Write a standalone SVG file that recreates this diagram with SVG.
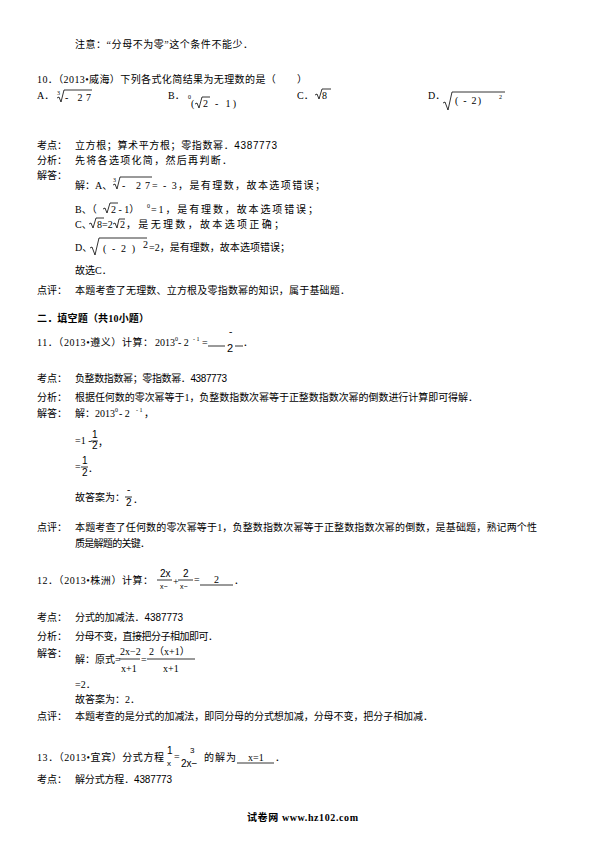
<svg xmlns="http://www.w3.org/2000/svg" width="595" height="842" viewBox="0 0 595 842">
<style>
text{font-family:"Liberation Serif","Noto Sans CJK SC",serif;font-size:10px;fill:#000}
.s{font-family:"Liberation Sans","Noto Sans CJK SC",sans-serif}
.b{font-weight:bold}
.sm{font-size:6px}
.rad{fill:none;stroke:#000;stroke-width:0.8}
.ln{stroke:#000;stroke-width:0.8}
</style>
<rect width="595" height="842" fill="#fff"/>
<g id="q9-note">
<text x="75" y="48" textLength="178" lengthAdjust="spacing">注意：“分母不为零”这个条件不能少．</text>
</g>
<g id="q10">
<text x="37" y="83" textLength="270" lengthAdjust="spacing">10．（2013•威海）下列各式化简结果为无理数的是（　　）</text>
<text x="37" y="99">A．</text>
<text class="sm" x="57" y="95">3</text>
<path class="rad" d="M57,98 L59,97 L61,102 L64,90 L92,90"/>
<text x="65" y="101" textLength="26" lengthAdjust="spacing">- 27</text>
<text x="168" y="99">B．</text>
<text class="sm" x="188" y="99">0</text>
<text x="191" y="107">(</text>
<path class="rad" d="M195,104 L197,103 L199,108 L202,97 L210,97"/>
<text x="203" y="107" textLength="33" lengthAdjust="spacing">2 - 1)</text>
<text x="297" y="99">C．</text>
<path class="rad" d="M315,95 L317,94 L319,99 L322,89 L331,89"/>
<text x="322" y="99">8</text>
<text x="428" y="99">D．</text>
<path class="rad" d="M443,103 L445,102 L448,110 L452,92 L505,92"/>
<text x="455" y="104" textLength="26" lengthAdjust="spacing">( - 2)</text>
<text class="sm" x="499" y="99">2</text>
</g>
<g id="q10-answer">
<text x="37" y="149">考点：</text>
<text x="75" y="149" textLength="202" lengthAdjust="spacing">立方根；算术平方根；零指数幂．<tspan class="s">4387773</tspan></text>
<text x="37" y="164">分析：</text>
<text x="75" y="164" textLength="157" lengthAdjust="spacing">先将各选项化简，然后再判断．</text>
<text x="37" y="179">解答：</text>
<text x="75" y="189">解：A、</text>
<text class="sm" x="113" y="182">3</text>
<path class="rad" d="M113,185 L115,184 L117,189 L120,177 L152,177"/>
<text x="122" y="189" textLength="28" lengthAdjust="spacing">- 27</text>
<text x="152" y="189" textLength="173" lengthAdjust="spacing">= - 3，是有理数，故本选项错误；</text>
<text x="75" y="213">B、（</text>
<path class="rad" d="M103,209 L105,208 L107,213 L110,203 L118,203"/>
<text x="111" y="213">2 - 1）</text>
<text class="sm" x="147" y="208">0</text>
<text x="151" y="213" textLength="167" lengthAdjust="spacing">=1，是有理数，故本选项错误；</text>
<text x="75" y="228">C、</text>
<path class="rad" d="M89,224 L91,223 L93,228 L96,218 L104,218"/>
<text x="97" y="228">8=2</text>
<path class="rad" d="M113,224 L115,223 L117,228 L119,219 L125,219"/>
<text x="120" y="228">2</text>
<text x="126" y="228" textLength="158" lengthAdjust="spacing">，是无理数，故本选项正确；</text>
<text x="75" y="251">D、</text>
<path class="rad" d="M90,248 L92,247 L95,255 L99,238 L147,238"/>
<text x="103" y="252" textLength="32" lengthAdjust="spacing">(  - 2 )</text>
<text x="143" y="248">2</text>
<text x="149" y="251" textLength="141" lengthAdjust="spacing">=2，是有理数，故本选项错误；</text>
<text x="75" y="274">故选C．</text>
<text x="37" y="294">点评：</text>
<text x="75" y="294" textLength="275" lengthAdjust="spacing">本题考查了无理数、立方根及零指数幂的知识，属于基础题．</text>
</g>
<g id="section2">
<text class="b" x="37" y="322" textLength="112" lengthAdjust="spacing">二．填空题（共10小题）</text>
</g>
<g id="q11">
<text x="37" y="346" textLength="116" lengthAdjust="spacing">11．（2013•遵义）计算：</text>
<text x="155" y="346">2013</text>
<text class="sm" x="175" y="341">0</text>
<text x="178" y="346"> - 2</text>
<text class="sm" x="193" y="341">- 1</text>
<text x="202" y="346">=</text>
<path class="ln" d="M208,346 L225,346 M235,346 L243,346"/>
<text x="229" y="335">-</text>
<text class="s" x="227" y="352" style="font-size:11px">2</text>
<text x="243" y="346">．</text>
</g>
<g id="q11-answer">
<text x="37" y="382">考点：</text>
<text x="75" y="382" textLength="152" lengthAdjust="spacing">负整数指数幂；零指数幂．<tspan class="s">4387773</tspan></text>
<text x="37" y="401">分析：</text>
<text x="75" y="401" textLength="403" lengthAdjust="spacing">根据任何数的零次幂等于1，负整数指数次幂等于正整数指数次幂的倒数进行计算即可得解．</text>
<text x="37" y="417">解答：</text>
<text x="75" y="417">解：2013</text>
<text class="sm" x="115" y="412">0</text>
<text x="119" y="417"> - 2</text>
<text class="sm" x="136" y="412">- 1</text>
<text x="144" y="417">，</text>
<text x="75" y="444">=1 - </text>
<text class="s" x="92" y="438">1</text>
<path class="ln" d="M91,441 L98,441"/>
<text class="s" x="92" y="449">2</text>
<text x="98" y="446">，</text>
<text x="75" y="470">=</text>
<text class="s" x="82" y="464">1</text>
<path class="ln" d="M81,467 L88,467"/>
<text class="s" x="82" y="476">2</text>
<text x="88" y="472">．</text>
<text x="75" y="501">故答案为：</text>
<text x="127" y="493">-</text>
<path class="ln" d="M125,497 L132,497"/>
<text class="s" x="126" y="506">2</text>
<text x="133" y="503">．</text>
<text x="37" y="531">点评：</text>
<text x="75" y="531" textLength="462" lengthAdjust="spacing">本题考查了任何数的零次幂等于1，负整数指数次幂等于正整数指数次幂的倒数，是基础题，熟记两个性</text>
<text x="75" y="547" textLength="75" lengthAdjust="spacing">质是解题的关键．</text>
</g>
<g id="q12">
<text x="37" y="584" textLength="116" lengthAdjust="spacing">12．（2013•株洲）计算：</text>
<text class="s" x="160" y="577">2x</text>
<path class="ln" d="M157,580 L172,580"/>
<text class="s" x="160" y="589" style="font-size:7px">x−</text>
<text x="173" y="585">+</text>
<text class="s" x="183" y="577">2</text>
<path class="ln" d="M178,580 L193,580"/>
<text class="s" x="180" y="589" style="font-size:7px">x−</text>
<text x="194" y="583">=</text>
<path class="ln" d="M200,585 L233,585"/>
<text x="214" y="583">2</text>
<text x="234" y="584">．</text>
</g>
<g id="q12-answer">
<text x="37" y="621">考点：</text>
<text x="75" y="621" textLength="108" lengthAdjust="spacing">分式的加减法．<tspan class="s">4387773</tspan></text>
<text x="37" y="640">分析：</text>
<text x="75" y="640" textLength="143" lengthAdjust="spacing">分母不变，直接把分子相加即可．</text>
<text x="37" y="657">解答：</text>
<text x="75" y="663">解：原式=</text>
<text x="120" y="655">2x−2</text>
<path class="ln" d="M119,659 L140,659"/>
<text x="121" y="672">x+1</text>
<text x="141" y="663">=</text>
<text x="149" y="655">2（x+1）</text>
<path class="ln" d="M147,659 L195,659"/>
<text x="163" y="672">x+1</text>
<text x="75" y="688">=2．</text>
<text x="75" y="703">故答案为：2．</text>
<text x="37" y="720">点评：</text>
<text x="75" y="720" textLength="358" lengthAdjust="spacing">本题考查的是分式的加减法，即同分母的分式想加减，分母不变，把分子相加减．</text>
</g>
<g id="q13">
<text x="37" y="761" textLength="127" lengthAdjust="spacing">13．（2013•宜宾）分式方程</text>
<text class="s" x="167" y="754">1</text>
<text class="s" x="167" y="766" style="font-size:8px">x</text>
<text x="174" y="760">=</text>
<text class="s" x="190" y="753" style="font-size:8px">3</text>
<text class="s" x="181" y="767">2x−</text>
<text x="204" y="761" textLength="32" lengthAdjust="spacing">的解为</text>
<path class="ln" d="M237,763 L274,763"/>
<text x="248" y="761">x=1</text>
<text x="275" y="761">．</text>
<text x="37" y="783">考点：</text>
<text x="75" y="783" textLength="97" lengthAdjust="spacing">解分式方程．<tspan class="s">4387773</tspan></text>
</g>
<g id="footer">
<text class="b" x="247" y="821" textLength="111" lengthAdjust="spacing">试卷网 www.hz102.com</text>
</g>
</svg>
